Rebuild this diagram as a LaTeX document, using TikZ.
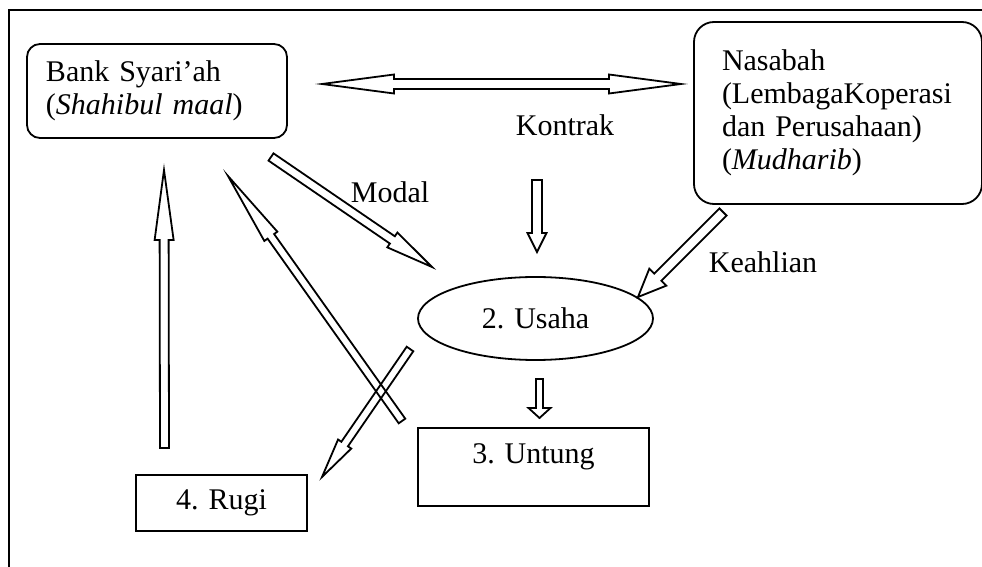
\documentclass[tikz,border=0pt]{standalone}
\usepackage{fontspec}
\setmainfont{Liberation Serif}
\usetikzlibrary{calc, shapes.geometric}
\tikzstyle{box} = [draw, line width=0.9pt, rectangle, inner sep=0pt, font=\fontsize{15}{16.5}\selectfont]
\tikzstyle{party} = [box, rounded corners=6.5pt, align=left, inner xsep=9.5pt]
\tikzstyle{arrowtext} = [font=\fontsize{15}{16.5}\selectfont, inner sep=0pt]
\tikzset{
    shaftwd/.store in=\shafthalf, headwd/.store in=\headhalf, headlen/.store in=\headlength,
    shaftwd=2pt, headwd=4.5pt, headlen=12pt,
    blockarrow/.style={draw, line width=0.9pt, line join=miter, to path={
        ($(\tikztostart)!\shafthalf!90:(\tikztotarget)$)
        -- ($(\tikztotarget)!\headlength!(\tikztostart)!\shafthalf!-90:(\tikztostart)$)
        -- ($(\tikztotarget)!\headlength!(\tikztostart)!\headhalf!-90:(\tikztostart)$)
        -- (\tikztotarget)
        -- ($(\tikztotarget)!\headlength!(\tikztostart)!\headhalf!90:(\tikztostart)$)
        -- ($(\tikztotarget)!\headlength!(\tikztostart)!\shafthalf!90:(\tikztostart)$)
        -- ($(\tikztostart)!\shafthalf!-90:(\tikztotarget)$)
        -- cycle}},
    dblarrow/.style={draw, line width=0.9pt, line join=miter, to path={
        ($(\tikztostart)!\headlength!(\tikztotarget)!\shafthalf!90:(\tikztotarget)$)
        -- ($(\tikztotarget)!\headlength!(\tikztostart)!\shafthalf!-90:(\tikztostart)$)
        -- ($(\tikztotarget)!\headlength!(\tikztostart)!\headhalf!-90:(\tikztostart)$)
        -- (\tikztotarget)
        -- ($(\tikztotarget)!\headlength!(\tikztostart)!\headhalf!90:(\tikztostart)$)
        -- ($(\tikztotarget)!\headlength!(\tikztostart)!\shafthalf!90:(\tikztostart)$)
        -- ($(\tikztostart)!\headlength!(\tikztotarget)!\shafthalf!-90:(\tikztotarget)$)
        -- ($(\tikztostart)!\headlength!(\tikztotarget)!\headhalf!-90:(\tikztotarget)$)
        -- (\tikztostart)
        -- ($(\tikztostart)!\headlength!(\tikztotarget)!\headhalf!90:(\tikztotarget)$)
        -- cycle}}
}

\begin{document}
\begin{tikzpicture}[x=0.5pt, y=-0.5pt]
    \useasboundingbox (0,0) rectangle (982,567);
    \draw [line width=0.8pt] (9,580) -- (9,10) -- (990,10);

    % Parties.
    \node (bank) [party, minimum width=130pt, minimum height=47pt, text width=111pt] at (157,91) {Bank Syari’ah\\(\textit{Shahibul maal})};
    \node (nasabah) [party, rounded corners=10pt, minimum width=144pt, minimum height=91pt, text width=116pt, inner xsep=14pt] at (838,113) {Nasabah\\(LembagaKoperasi\\dan Perusahaan)\\(\textit{Mudharib})};

    % Business and results.
    \node (usaha) [box, ellipse, minimum width=117.5pt, minimum height=41.5pt] at (535.5,318.5) {2. Usaha};
    \node (untung) [box, minimum width=115.5pt, minimum height=39pt, text depth=13.3pt] at (533.5,467) {3. Untung};
    \node (rugi) [box, minimum width=85.5pt, minimum height=28pt] at (221.5,503) {4. Rugi};

    % Labels.
    \node (kontrak) [arrowtext] at (565,125) {Kontrak};
    \node (modal) [arrowtext] at (390,192) {Modal};
    \node (keahlian) [arrowtext] at (763,262) {Keahlian};

    % Arrow ends.
    \coordinate (kontrakW) at (322,84);
    \coordinate (kontrakE) at (681,84);
    \coordinate (modalA) at (271,157);
    \coordinate (modalB) at (432,267);
    \coordinate (kontrakA) at (537,180);
    \coordinate (kontrakB) at (537,252);
    \coordinate (keahlianA) at (723,212);
    \coordinate (keahlianB) at (638,297);
    \coordinate (untungA) at (539.5,379);
    \coordinate (untungB) at (539.5,418);
    \coordinate (rugiA) at (410,349);
    \coordinate (rugiB) at (322,477);
    \coordinate (labaA) at (402,421);
    \coordinate (labaB) at (228,176);
    \coordinate (ruginA) at (164.5,448);
    \coordinate (ruginB) at (164,170);

    % Arrows.
    \draw [dblarrow, shaftwd=2.5pt, headwd=4.75pt, headlen=36pt] (kontrakW) to (kontrakE);
    \foreach \a/\b/\s/\w/\l in {modalA/modalB/2.2pt/4.5pt/24pt, kontrakA/kontrakB/2.5pt/4.75pt/9.5pt,
            keahlianA/keahlianB/2.5pt/6pt/14pt, untungA/untungB/1.75pt/5.5pt/5pt,
            rugiA/rugiB/2pt/4pt/20pt, labaA/labaB/2pt/4pt/37pt, ruginA/ruginB/2.25pt/4.75pt/35pt} {
        \draw [blockarrow, shaftwd=\s, headwd=\w, headlen=\l] (\a) to (\b);
    }
\end{tikzpicture}
\end{document}
